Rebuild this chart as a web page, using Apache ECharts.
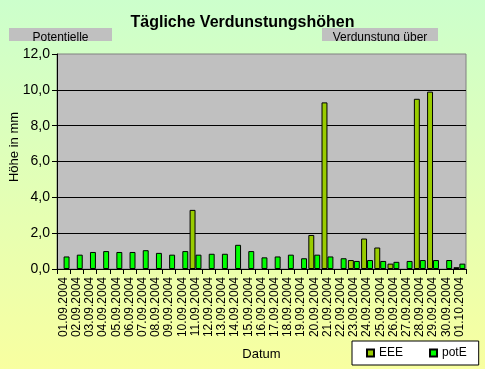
<!DOCTYPE html>
<html>
<head>
<meta charset="utf-8">
<script src="https://cdn.jsdelivr.net/npm/echarts@6/dist/echarts.min.js"></script>
<style>
html,body{margin:0;padding:0;}
#chart{width:485px;height:369px;}
</style>
</head>
<body>
<div id="chart"></div>
<script>
const categories = ['01.09.2004','02.09.2004','03.09.2004','04.09.2004','05.09.2004','06.09.2004','07.09.2004','08.09.2004','09.09.2004','10.09.2004','11.09.2004','12.09.2004','13.09.2004','14.09.2004','15.09.2004','16.09.2004','17.09.2004','18.09.2004','19.09.2004','20.09.2004','21.09.2004','22.09.2004','23.09.2004','24.09.2004','25.09.2004','26.09.2004','27.09.2004','28.09.2004','29.09.2004','30.09.2004','01.10.2004'];
const eeeValues = [null,null,null,null,null,null,null,null,null,null,3.3,null,null,null,null,null,null,null,null,1.9,9.3,null,0.5,1.7,1.2,0.3,null,9.5,9.9,null,0.1];
const potEValues = [0.7,0.8,0.95,1.0,0.95,0.95,1.05,0.9,0.8,1.0,0.8,0.85,0.85,1.35,1.0,0.65,0.7,0.8,0.6,0.8,0.7,0.6,0.45,0.5,0.45,0.4,0.45,0.5,0.5,0.5,0.3];
const seriesNames = ['EEE','potE'];
const titleText = 'Tägliche Verdunstungshöhen';
const boxTexts = ['Potentielle','Verdunstung über'];
const yName = 'Höhe in mm';
const xName = 'Datum';

const FONT = 'Liberation Sans, Arial, sans-serif';
const chart = echarts.init(document.getElementById('chart'));
chart.setOption({
  backgroundColor: {type:'linear',x:0,y:0,x2:0,y2:1,colorStops:[{offset:0,color:'#CCFFCC'},{offset:1,color:'#F8FFA0'}]},
  animation:false,
  title:{text:titleText,left:'center',top:10,textStyle:{fontFamily:FONT,fontSize:16,fontWeight:'bold',color:'#000'}},
  graphic:[
    {type:'rect',shape:{x:9,y:28,width:103,height:13},style:{fill:'#C0C0C0'}},
    {type:'text',x:60.5,y:44,style:{text:boxTexts[0],fontFamily:FONT,fontSize:12,fill:'#000',textAlign:'center',textVerticalAlign:'bottom'}},
    {type:'rect',shape:{x:322,y:28,width:116,height:13},style:{fill:'#C0C0C0'}},
    {type:'text',x:380,y:44,style:{text:boxTexts[1],fontFamily:FONT,fontSize:12,fill:'#000',textAlign:'center',textVerticalAlign:'bottom'}},
    {type:'rect',shape:{x:5,y:41,width:110,height:6},style:{fill:'#D1FFC7'}},
    {type:'rect',shape:{x:318,y:41,width:124,height:6},style:{fill:'#D1FFC7'}},
    {type:'text',x:14,y:147,rotation:Math.PI/2,style:{text:yName,fontFamily:FONT,fontSize:13,fill:'#000',textAlign:'center',textVerticalAlign:'middle'}}
  ],
  legend:{
    data:seriesNames,left:352,top:341,orient:'horizontal',
    padding:[6,12,6,14],itemGap:26,itemWidth:7,itemHeight:7,icon:'rect',
    backgroundColor:'#fff',borderColor:'#000',borderWidth:1,borderRadius:0,
    textStyle:{fontFamily:FONT,fontSize:12,color:'#000'}
  },
  grid:{left:57,right:19,top:54,bottom:100,show:true,backgroundColor:'#C0C0C0',borderColor:'#808080',borderWidth:1},
  xAxis:{
    type:'category',data:categories,
    name:xName,nameLocation:'middle',nameGap:79,
    nameTextStyle:{fontFamily:FONT,fontSize:13,color:'#000',verticalAlign:'top'},
    axisLine:{lineStyle:{color:'#000',width:1}},
    axisTick:{show:true,length:5,lineStyle:{color:'#000'}},
    axisLabel:{interval:0,rotate:90,margin:8,fontFamily:FONT,fontSize:12,color:'#000'}
  },
  yAxis:{
    type:'value',min:0,max:12,interval:2,
    axisLine:{show:true,lineStyle:{color:'#000',width:1}},
    axisTick:{show:true,length:5,lineStyle:{color:'#000'}},
    axisLabel:{margin:7,fontFamily:FONT,fontSize:14,color:'#000',formatter:v=>v.toFixed(1).replace('.',',')},
    splitLine:{show:true,showMaxLine:false,lineStyle:{color:'#000',width:1}}
  },
  series:[
    {name:seriesNames[0],type:'bar',data:eeeValues,barGap:'0%',barCategoryGap:'10%',itemStyle:{color:'#99CC00',borderColor:'#000',borderWidth:1}},
    {name:seriesNames[1],type:'bar',data:potEValues,barGap:'0%',barCategoryGap:'10%',itemStyle:{color:'#00FF00',borderColor:'#000',borderWidth:1}}
  ]
});
</script>
</body>
</html>
